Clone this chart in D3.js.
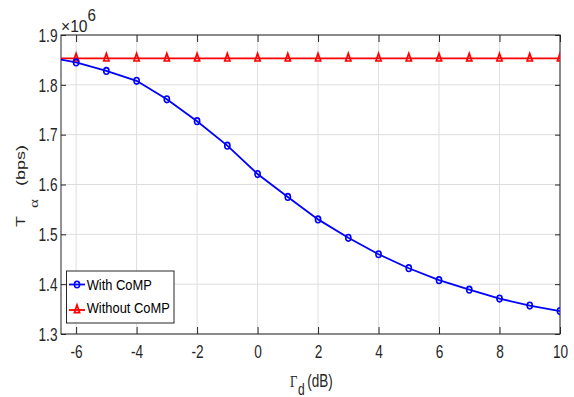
<!DOCTYPE html>
<html><head><meta charset="utf-8">
<script src="https://cdn.jsdelivr.net/npm/d3@7"></script>
<style>
html,body{margin:0;padding:0;background:#fff;}
text{font-family:"Liberation Sans",Arial,sans-serif;}
</style></head>
<body><svg id="c" width="574" height="397"></svg>
<script>
// Data
const xValues = [-7,-6,-5,-4,-3,-2,-1,0,1,2,3,4,5,6,7,8,9,10];
const withCoMP = [1.856,1.845,1.828,1.808,1.771,1.727,1.678,1.621,1.575,1.530,1.493,1.460,1.432,1.408,1.389,1.371,1.357,1.346];
const withoutCoMP = [1.853,1.853,1.853,1.853,1.853,1.853,1.853,1.853,1.853,1.853,1.853,1.853,1.853,1.853,1.853,1.853,1.853,1.853];
const xTicks = [-6,-4,-2,0,2,4,6,8,10];
const yTicks = [1.3,1.4,1.5,1.6,1.7,1.8,1.9];
const seriesNames = ["With CoMP","Without CoMP"];

const svg = d3.select("#c");
const L=61, R=560, T=35, B=334;
const SX = 0.76; // horizontal squeeze of text (figure is stretched vertically)
const x = d3.scaleLinear().domain([-6.5,10]).range([L,R]);
const y = d3.scaleLinear().domain([1.3,1.9]).range([B,T]);

svg.append("defs").append("clipPath").attr("id","clip")
  .append("rect").attr("x",L).attr("y",T).attr("width",R-L).attr("height",B-T);

// grid
const g = svg.append("g");
g.selectAll(".gx").data(xTicks).enter().append("line")
  .attr("x1",d=>x(d)).attr("x2",d=>x(d)).attr("y1",T).attr("y2",B)
  .attr("stroke","#dedede").attr("stroke-width",1);
g.selectAll(".gy").data(yTicks).enter().append("line")
  .attr("y1",d=>y(d)).attr("y2",d=>y(d)).attr("x1",L).attr("x2",R)
  .attr("stroke","#dedede").attr("stroke-width",1);

// axes with inward ticks
const fmtX = d => String(d); // hyphen-minus as in reference
const axB = svg.append("g").attr("transform",`translate(0,${B})`)
  .call(d3.axisBottom(x).tickValues(xTicks).tickSizeInner(-7).tickSizeOuter(0).tickFormat(fmtX));
const axT = svg.append("g").attr("transform",`translate(0,${T})`)
  .call(d3.axisTop(x).tickValues(xTicks).tickSizeInner(-7).tickSizeOuter(0).tickFormat(""));
const axL = svg.append("g").attr("transform",`translate(${L},0)`)
  .call(d3.axisLeft(y).tickValues(yTicks).tickSizeInner(-5).tickSizeOuter(0).tickFormat(d3.format(".1f")));
const axR = svg.append("g").attr("transform",`translate(${R},0)`)
  .call(d3.axisRight(y).tickValues(yTicks).tickSizeInner(-5).tickSizeOuter(0).tickFormat(""));
[axB,axT,axL,axR].forEach(a=>{
  a.select(".domain").remove();
  a.selectAll("line").attr("stroke","#262626").attr("stroke-width",1);
  a.selectAll("text").attr("fill","#262626").style("font-size","18px")
    .attr("x",0).attr("y",0).attr("dy",null);
});
axB.selectAll("text").attr("text-anchor","middle")
  .attr("transform",`translate(0,${357.5-B}) scale(${SX},1)`);
axL.selectAll("text").attr("text-anchor","end")
  .attr("transform",`translate(${57.5-L},6.3) scale(${SX},1)`);
svg.append("rect").attr("x",L).attr("y",T).attr("width",R-L).attr("height",B-T)
  .attr("fill","none").attr("stroke","#262626").attr("stroke-width",1);

// exponent
const exg = svg.append("g").attr("transform",`translate(61,32) scale(0.95,1)`);
exg.append("text").attr("x",0).attr("y",0).attr("fill","#262626").style("font-size","16.5px").text("×10");
exg.append("text").attr("x",28).attr("y",-11.5).attr("fill","#262626").style("font-size","16px").text("6");

// lines
const plot = svg.append("g").attr("clip-path","url(#clip)");
const line = d3.line().x((d,i)=>x(xValues[i])).y(d=>y(d));
plot.append("path").datum(withoutCoMP).attr("d",line).attr("fill","none").attr("stroke","#ff0000").attr("stroke-width",1.8);
plot.append("path").datum(withCoMP).attr("d",line).attr("fill","none").attr("stroke","#0000ff").attr("stroke-width",1.8);

const triPath = "M0,-5L2.6,2.6L-2.6,2.6Z";
plot.selectAll(".tri").data(withoutCoMP).enter().append("path")
  .attr("d",triPath).attr("transform",(d,i)=>`translate(${x(xValues[i])},${y(d)})`)
  .attr("fill","none").attr("stroke","#ff0000").attr("stroke-width",1.7);
plot.selectAll(".cir").data(withCoMP).enter().append("ellipse")
  .attr("cx",(d,i)=>x(xValues[i])).attr("cy",d=>y(d)).attr("rx",2.6).attr("ry",3.3)
  .attr("fill","none").attr("stroke","#0000ff").attr("stroke-width",1.6);

// legend
const lg = svg.append("g");
lg.append("rect").attr("x",66.5).attr("y",271).attr("width",107.5).attr("height",52)
  .attr("fill","#fff").attr("stroke","#262626").attr("stroke-width",1);
const rows=[{c:"#0000ff",ly:284.5,ty:290},{c:"#ff0000",ly:310,ty:312.7}];
rows.forEach((r,i)=>{
  lg.append("line").attr("x1",69).attr("x2",85).attr("y1",r.ly).attr("y2",r.ly).attr("stroke",r.c).attr("stroke-width",1.8);
  if(i===0) lg.append("ellipse").attr("cx",77).attr("cy",r.ly).attr("rx",2.6).attr("ry",3.3).attr("fill","none").attr("stroke",r.c).attr("stroke-width",1.6);
  else lg.append("path").attr("d",triPath).attr("transform",`translate(77,${r.ly})`).attr("fill","none").attr("stroke",r.c).attr("stroke-width",1.7);
  lg.append("text").attr("x",0).attr("y",0).attr("transform",`translate(86.7,${r.ty}) scale(0.86,1)`)
    .attr("fill","#000").style("font-size","15px").text(seriesNames[i]);
});

// x-axis label
const xl = svg.append("g").attr("transform",`translate(290,386.5) scale(0.75,1)`);
xl.append("text").attr("x",0).attr("y",0).attr("fill","#262626").style("font-family","Liberation Serif").style("font-size","17px").text("Γ");
xl.append("text").attr("x",10.7).attr("y",8.5).attr("fill","#262626").style("font-size","16px").text("d");
xl.append("text").attr("x",23).attr("y",0).attr("fill","#262626").style("font-size","18px").text("(dB)");

// y-axis label (rotated)
const yl = svg.append("g").attr("transform",`translate(25,227) rotate(-90) scale(1,0.74)`);
yl.append("text").attr("x",0).attr("y",0).attr("fill","#262626").style("font-size","18px").text("T");
yl.append("text").attr("x",19).attr("y",17).attr("fill","#262626").style("font-family","Liberation Serif").style("font-size","17px").text("α");
yl.append("text").attr("x",41).attr("y",0).attr("fill","#262626").style("font-size","18px").text("(bps)");
</script></body></html>
